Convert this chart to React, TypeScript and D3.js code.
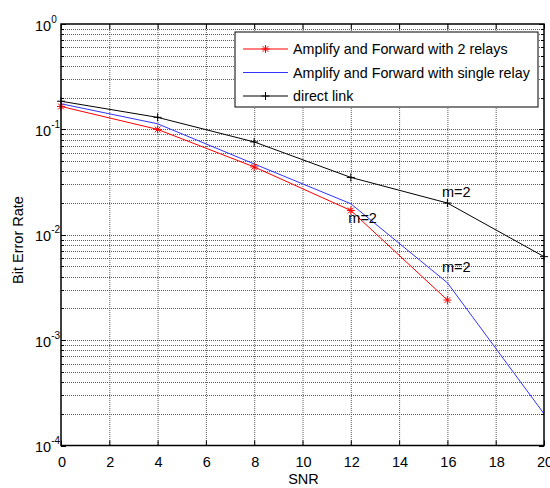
import * as d3 from "d3";

const snrTicks = [0, 2, 4, 6, 8, 10, 12, 14, 16, 18, 20];
const decades = [0, -1, -2, -3, -4];

const snrTwoRelays = [0, 4, 8, 12, 16];
const berTwoRelays = [0.165, 0.1, 0.044, 0.017, 0.0024];

const snrSingle = [0, 4, 8, 12, 16, 20];
const berSingle = [0.175, 0.113, 0.047, 0.0197, 0.0035, 0.0002];

const snrDirect = [0, 4, 8, 12, 16, 20];
const berDirect = [0.185, 0.13, 0.076, 0.035, 0.02, 0.0062];

const legendLabels = [
  "Amplify and Forward with 2 relays",
  "Amplify and Forward with single relay",
  "direct link",
];

const notes = [
  { x: 16, y: 0.02, dx: -5.5, dy: -6 },
  { x: 12, y: 0.017, dx: -2.5, dy: 13 },
  { x: 16, y: 0.0035, dx: -5.5, dy: -11 },
];

const width = 550;
const height = 488;
const left = 61;
const right = 544;
const top = 24;
const bottom = 445.5;
const font = "Arial, 'Liberation Sans', sans-serif";
const fs = 14.5;

const Star = ({ x, y, color }: { x: number; y: number; color: string }) => {
  const s = 4;
  const d = 2.9;
  return (
    <g stroke={color} strokeWidth={1}>
      <line x1={x - s} y1={y} x2={x + s} y2={y} />
      <line x1={x} y1={y - s} x2={x} y2={y + s} />
      <line x1={x - d} y1={y - d} x2={x + d} y2={y + d} />
      <line x1={x - d} y1={y + d} x2={x + d} y2={y - d} />
    </g>
  );
};

const Plus = ({ x, y }: { x: number; y: number }) => {
  const s = 4;
  return (
    <g stroke="#000" strokeWidth={1}>
      <line x1={x - s} y1={y} x2={x + s} y2={y} />
      <line x1={x} y1={y - s} x2={x} y2={y + s} />
    </g>
  );
};

export default function App() {
  const x = d3.scaleLinear().domain([0, 20]).range([left, right]);
  const y = d3.scaleLog().domain([1e-4, 1]).range([bottom, top]);

  const line = d3
    .line<[number, number]>()
    .x((d) => x(d[0]))
    .y((d) => y(d[1]));

  const minor: number[] = [];
  decades.slice(1).forEach((e) => {
    for (let k = 2; k <= 9; k++) minor.push(k * Math.pow(10, e));
  });
  const py = (v: number) => Math.round(y(v)) + 0.5;

  const red = snrTwoRelays.map((s, i) => [s, berTwoRelays[i]] as [number, number]);
  const blue = snrSingle.map((s, i) => [s, berSingle[i]] as [number, number]);
  const black = snrDirect.map((s, i) => [s, berDirect[i]] as [number, number]);

  const lx = 235;
  const ly = 32;

  return (
    <svg width={width} height={height} style={{ position: "absolute", left: 0, top: 0 }} fontFamily={font}>
      <rect width={width} height={height} fill="#fff" />
      {/* grid */}
      <g stroke="#333" strokeWidth={1} strokeDasharray="1,1" opacity={0.8}>
        {snrTicks.slice(1, -1).map((t) => (
          <line key={"gx" + t} x1={x(t) + 0.5} x2={x(t) + 0.5} y1={top} y2={bottom} />
        ))}
        {decades.slice(1, -1).map((e) => (
          <line key={"gy" + e} x1={left} x2={right} y1={py(Math.pow(10, e))} y2={py(Math.pow(10, e))} />
        ))}
        {minor.map((v) => (
          <line key={"gm" + v} x1={left} x2={right} y1={py(v)} y2={py(v)} />
        ))}
      </g>
      {/* ticks */}
      <g stroke="#000" strokeWidth={1}>
        {snrTicks.map((t) => (
          <g key={"tx" + t}>
            <line x1={x(t) + 0.5} x2={x(t) + 0.5} y1={bottom} y2={bottom - 5} />
            <line x1={x(t) + 0.5} x2={x(t) + 0.5} y1={top} y2={top + 5} />
          </g>
        ))}
        {decades.map((e) => (
          <g key={"ty" + e}>
            <line x1={left} x2={left + 5} y1={py(Math.pow(10, e))} y2={py(Math.pow(10, e))} />
            <line x1={right - 5} x2={right} y1={py(Math.pow(10, e))} y2={py(Math.pow(10, e))} />
          </g>
        ))}
        {minor.map((v) => (
          <g key={"tm" + v}>
            <line x1={left} x2={left + 3} y1={py(v)} y2={py(v)} />
            <line x1={right - 3} x2={right} y1={py(v)} y2={py(v)} />
          </g>
        ))}
      </g>
      {/* series */}
      <path d={line(black) ?? ""} fill="none" stroke="#000" strokeWidth={1} />
      <path d={line(blue) ?? ""} fill="none" stroke="#3333ff" strokeWidth={1} />
      <path d={line(red) ?? ""} fill="none" stroke="#ff0000" strokeWidth={1} />
      {black.map((d, i) => (
        <Plus key={"pb" + i} x={x(d[0])} y={y(d[1])} />
      ))}
      {red.map((d, i) => (
        <Star key={"pr" + i} x={x(d[0])} y={y(d[1])} color="#ff0000" />
      ))}
      {/* annotations */}
      {notes.map((n, i) => (
        <text key={"n" + i} x={x(n.x) + n.dx} y={y(n.y) + n.dy} fontSize={fs} fill="#000">
          m=2
        </text>
      ))}
      {/* frame */}
      <rect x={left} y={top} width={right - left} height={bottom - top} fill="none" stroke="#000" strokeWidth={1.5} />
      {/* tick labels */}
      {snrTicks.map((t) => (
        <text key={"lx" + t} x={x(t) + 1} y={bottom + 21} fontSize={fs} textAnchor="middle">
          {t}
        </text>
      ))}
      {decades.map((e) => (
        <text key={"ly" + e} x={left - 26} y={y(Math.pow(10, e)) + 6.5} fontSize={fs}>
          10
          <tspan fontSize={10} dy={-8}>
            {e}
          </tspan>
        </text>
      ))}
      <text x={(left + right) / 2 + 1} y={484} fontSize={fs} textAnchor="middle">
        SNR
      </text>
      <text transform={`translate(23, 240) rotate(-90)`} fontSize={fs} textAnchor="middle">
        Bit Error Rate
      </text>
      {/* legend */}
      <rect x={lx} y={ly} width={303} height={75} fill="#fff" stroke="#000" strokeWidth={1} />
      {legendLabels.map((label, i) => {
        const yy = ly + 17 + i * 23.5;
        const color = i === 0 ? "#ff0000" : i === 1 ? "#3333ff" : "#000";
        return (
          <g key={label}>
            <line x1={lx + 8} x2={lx + 53} y1={yy} y2={yy} stroke={color} strokeWidth={1} />
            {i === 0 && <Star x={lx + 30.5} y={yy} color={color} />}
            {i === 2 && <Plus x={lx + 30.5} y={yy} />}
            <text x={lx + 58} y={yy + 5} fontSize={14.3}>
              {label}
            </text>
          </g>
        );
      })}
    </svg>
  );
}
